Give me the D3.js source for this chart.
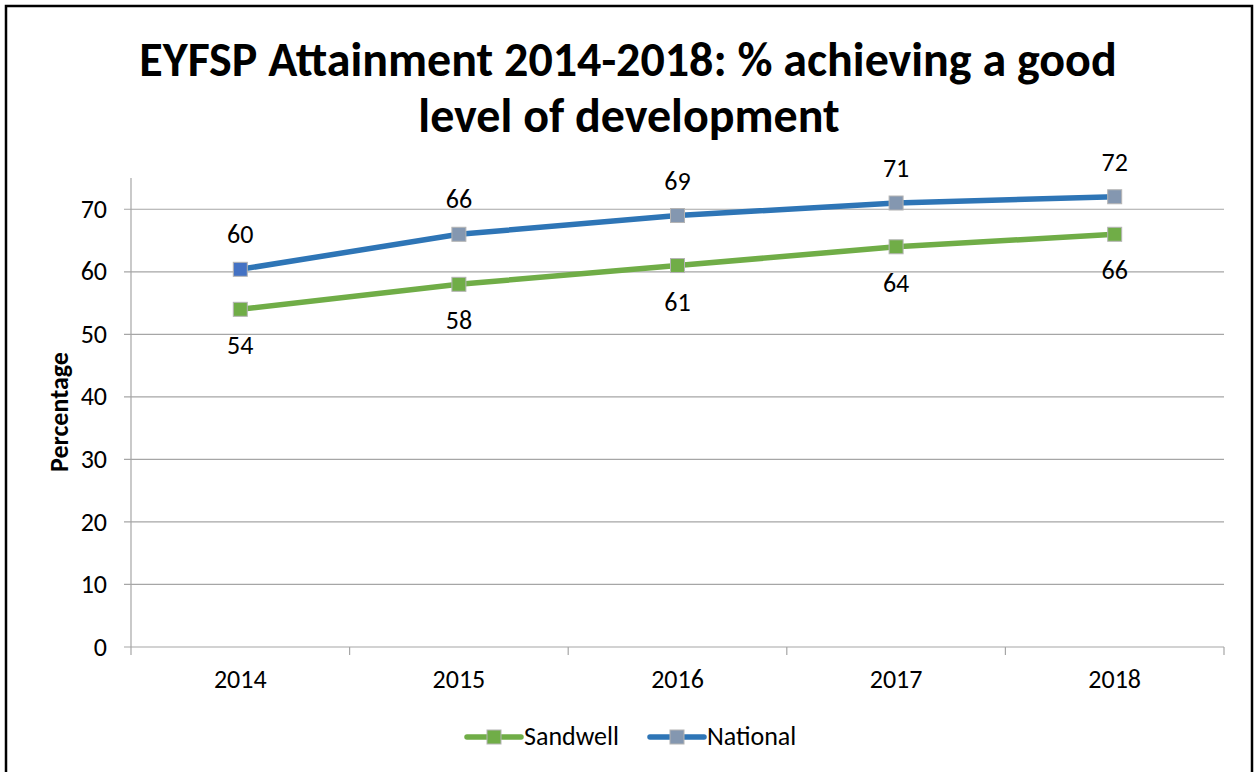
<!DOCTYPE html>
<html>
<head>
<meta charset="utf-8">
<script src="https://cdn.jsdelivr.net/npm/d3@7"></script>
<style>
  body { margin: 0; background: #fff; }
  svg { display: block; font-family: Carlito, Calibri, Lato, sans-serif; }
</style>
</head>
<body>
<svg id="vis" width="1257" height="772"></svg>
<script>
// chart data
var years = ['2014', '2015', '2016', '2017', '2018'];
var sandwell = [54, 58, 61, 64, 66];
var national = [60.4, 66, 69, 71, 72];
var yTicks = [0, 10, 20, 30, 40, 50, 60, 70];
var seriesNames = ['Sandwell', 'National'];

var margin = {left: 131, right: 1224, top: 178, bottom: 647};
var fontSize = 26;

var svg = d3.select('#vis');

// outer frame
svg.append('rect')
    .attr('x', 6).attr('y', 6)
    .attr('width', 1246).attr('height', 780)
    .attr('fill', 'none').attr('stroke', '#000').attr('stroke-width', 2.5);

// title
var title = svg.append('g').attr('font-weight', 'bold').attr('font-size', 48).attr('text-anchor', 'middle');
title.append('text').attr('x', 628).attr('y', 76)
    .text('EYFSP Attainment 2014-2018: % achieving a good');
title.append('text').attr('x', 629).attr('y', 132)
    .text('level of development');

var x = d3.scaleBand().domain(years).range([margin.left, margin.right]);
var y = d3.scaleLinear().domain([0, 75]).range([margin.bottom, margin.top]);

// gridlines
svg.append('g').selectAll('line').data(yTicks).enter().append('line')
    .attr('x1', margin.left - 7).attr('x2', margin.right)
    .attr('y1', function(d){ return y(d); }).attr('y2', function(d){ return y(d); })
    .attr('stroke', '#a6a6a6').attr('stroke-width', 1.2);

// y axis line
svg.append('line')
    .attr('x1', margin.left).attr('x2', margin.left)
    .attr('y1', margin.top).attr('y2', margin.bottom)
    .attr('stroke', '#a6a6a6').attr('stroke-width', 1.2);

// y tick labels
svg.append('g').selectAll('text').data(yTicks).enter().append('text')
    .attr('x', 107).attr('y', function(d){ return y(d); })
    .attr('dy', '0.33em').attr('text-anchor', 'end').attr('font-size', fontSize)
    .text(function(d){ return d; });

// x tick marks at category boundaries
var bounds = years.map(function(d){ return x(d); }).concat([margin.right]);
svg.append('g').selectAll('line').data(bounds).enter().append('line')
    .attr('x1', function(d){ return d; }).attr('x2', function(d){ return d; })
    .attr('y1', margin.bottom).attr('y2', margin.bottom + 8)
    .attr('stroke', '#a6a6a6').attr('stroke-width', 1.2);

// x labels
svg.append('g').selectAll('text').data(years).enter().append('text')
    .attr('x', function(d){ return x(d) + x.bandwidth() / 2; })
    .attr('y', 688).attr('text-anchor', 'middle').attr('font-size', fontSize)
    .text(function(d){ return d; });

// y axis title
svg.append('text')
    .attr('transform', 'translate(68,412) rotate(-90)')
    .attr('text-anchor', 'middle').attr('font-weight', 'bold').attr('font-size', fontSize)
    .text('Percentage');

var line = d3.line()
    .x(function(d, i){ return x(years[i]) + x.bandwidth() / 2; })
    .y(function(d){ return y(d); });

var series = [
    {name: seriesNames[0], values: sandwell, color: '#70ad47', marker: function(){ return '#70ad47'; }, labelDy: 45},
    {name: seriesNames[1], values: national, color: '#2e75b6', marker: function(d, i){ return i === 0 ? '#4472c4' : '#8497b0'; }, labelDy: -26}
];

series.forEach(function(s){
    svg.append('path')
        .attr('d', line(s.values))
        .attr('fill', 'none').attr('stroke', s.color).attr('stroke-width', 5.5);

    svg.append('g').selectAll('rect').data(s.values).enter().append('rect')
        .attr('x', function(d, i){ return x(years[i]) + x.bandwidth() / 2 - 7; })
        .attr('y', function(d){ return y(d) - 7; })
        .attr('width', 14).attr('height', 14)
        .attr('fill', s.marker)
        .attr('stroke', '#b4b4b4').attr('stroke-width', 1);

    svg.append('g').selectAll('text').data(s.values).enter().append('text')
        .attr('x', function(d, i){ return x(years[i]) + x.bandwidth() / 2; })
        .attr('y', function(d){ return y(d) + s.labelDy; })
        .attr('text-anchor', 'middle').attr('font-size', fontSize)
        .text(function(d){ return d3.format('.0f')(d); });
});

// legend
var legend = svg.append('g').attr('transform', 'translate(467,737)');
var legendItems = legend.selectAll('g').data(series).enter().append('g')
    .attr('transform', function(d, i){ return 'translate(' + (i * 183) + ',0)'; });
legendItems.append('line')
    .attr('x1', 0).attr('x2', 54).attr('y1', 0).attr('y2', 0)
    .attr('stroke', function(d){ return d.color; }).attr('stroke-width', 5.5)
    .attr('stroke-linecap', 'round');
legendItems.append('rect')
    .attr('x', 20).attr('y', -7).attr('width', 14).attr('height', 14)
    .attr('fill', function(d){ return d.marker(null, 1); })
    .attr('stroke', '#b4b4b4').attr('stroke-width', 1);
legendItems.append('text')
    .attr('x', 57).attr('y', 8).attr('font-size', fontSize)
    .text(function(d){ return d.name; });
</script>
</body>
</html>
